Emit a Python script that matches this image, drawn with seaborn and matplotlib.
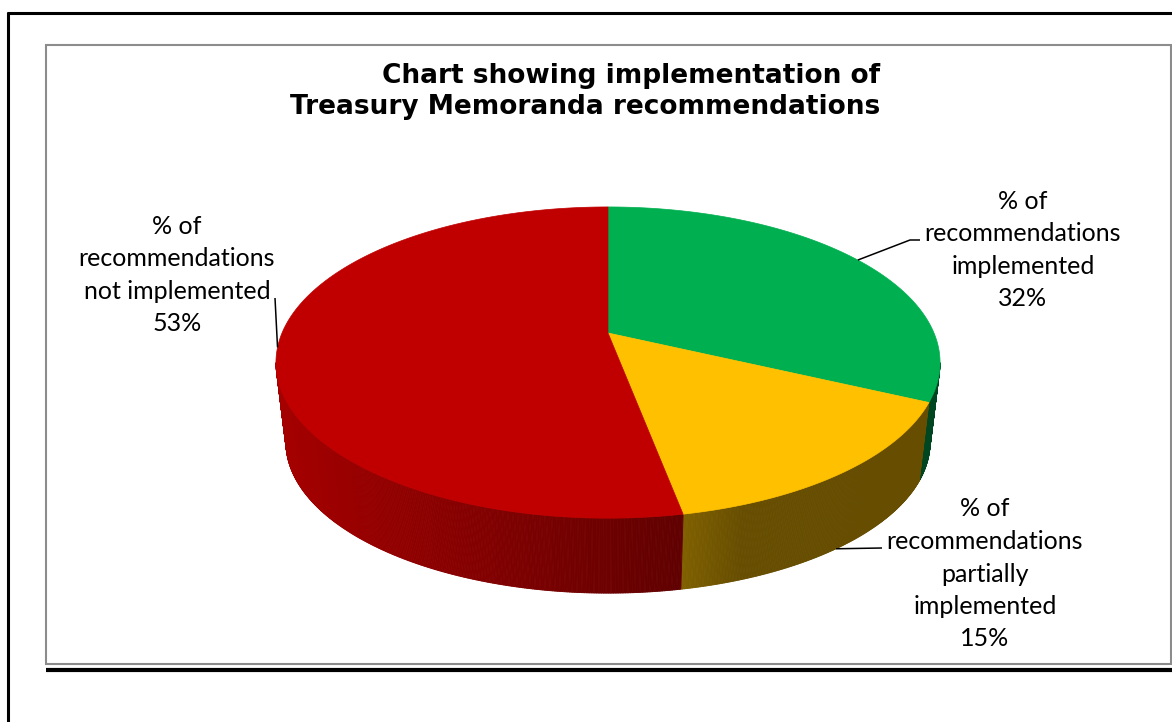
import numpy as np
import matplotlib
matplotlib.use("Agg")
import matplotlib.pyplot as plt
from matplotlib.patches import Polygon, Rectangle
from matplotlib.collections import PolyCollection
from matplotlib.colors import to_rgb
import seaborn as sns

# ---- data ----
label_lines = [
    ["% of", "recommendations", "implemented"],
    ["% of", "recommendations", "partially", "implemented"],
    ["% of", "recommendations", "not implemented"],
]
values = [32, 15, 53]
slice_colors = ["#00B050", "#FFC000", "#C00000"]
title_text = "Chart showing implementation of\nTreasury Memoranda recommendations"

sns.set_theme(style="white")
plt.rcParams["font.family"] = ["Lato", "DejaVu Sans"]
palette = sns.color_palette(slice_colors)

W, H = 1172, 722
fig = plt.figure(figsize=(W / 100, H / 100), dpi=100)
ax = fig.add_axes([0, 0, 1, 1])
ax.set_xlim(0, W)
ax.set_ylim(H, 0)
ax.axis("off")

# ---- 3D pie geometry (pixel space) ----
cx, cy = 608, 333
rx, ry = 326, 150
persp = 0.19
depth = 80.5
shrink = 0.97


def rim(theta_deg, base=False):
    t = np.radians(theta_deg)
    w = 1 + persp * np.sin(t)
    s = shrink if base else 1.0
    x = cx + s * rx * np.cos(t) / w
    y = cy + (depth if base else 0.0) - s * ry * np.sin(t) / w
    return x, y


def side_shade(x):
    # lighting along the wall: brighter on the left, darkest towards front-right
    if x <= 683:
        return 0.86 - 0.36 * (x - 287) / (683 - 287)
    return max(0.40, 0.50 - 0.10 * (x - 683) / (740 - 683))


total = float(sum(values))
edge = np.degrees(np.arcsin(persp))
vis_lo, vis_hi = -180 + edge, -edge

starts, ends = [], []
a = 90.0
for v in values:
    starts.append(a)
    a -= 360.0 * v / total
    ends.append(a)

# side walls
for a0, a1, col in zip(starts, ends, palette):
    lo, hi = max(a1, vis_lo), min(a0, vis_hi)
    if hi <= lo:
        continue
    th = np.linspace(lo, hi, int((hi - lo) * 4) + 2)
    quads, cols = [], []
    base = np.array(to_rgb(col))
    for t0, t1 in zip(th[:-1], th[1:]):
        p0, p1 = rim(t0), rim(t1)
        q1, q0 = rim(t1, True), rim(t0, True)
        quads.append([p0, p1, q1, q0])
        f = side_shade(0.5 * (q0[0] + q1[0]))
        cols.append(tuple(base * f))
    ax.add_collection(PolyCollection(quads, facecolors=cols, edgecolors=cols,
                                     linewidths=0.6, zorder=2))

# top faces
for a0, a1, col in zip(starts, ends, palette):
    th = np.linspace(a0, a1, 200)
    xs, ys = rim(th)
    pts = np.column_stack([np.r_[cx, xs], np.r_[cy, ys]])
    ax.add_patch(Polygon(pts, closed=True, facecolor=col, edgecolor=col,
                         linewidth=0.5, zorder=3))

# ---- data labels with leader lines ----
label_pos = [(1023, 250), (985, 574), (177, 275)]
leader_knee = [[(910, 240), (920, 240)], [(882, 548)], [(275, 298)]]
for i, (a0, a1) in enumerate(zip(starts, ends)):
    mid = 0.5 * (a0 + a1)
    on_base = np.sin(np.radians(mid)) < -0.5
    px, py = rim(mid, on_base)
    path = [(px, py)] + leader_knee[i]
    ax.plot([p[0] for p in path], [p[1] for p in path], color="black",
            lw=1.1, zorder=4, solid_capstyle="butt")
    pct = f"{values[i] / total * 100:.0f}%"
    txt = "\n".join(label_lines[i] + [pct])
    ax.text(label_pos[i][0], label_pos[i][1], txt, ha="center", va="center",
            multialignment="center", fontsize=18, color="black",
            linespacing=1.5, zorder=5)

# ---- title ----
ax.text(880, 91.5, title_text, ha="right", va="center", multialignment="right",
        fontsize=19, fontweight="bold", color="black", linespacing=1.28,
        family=["DejaVu Sans"], zorder=5)

# ---- frames ----
ax.plot([8, 8], [12, H], color="black", lw=2.2, solid_capstyle="butt")
ax.plot([7, W], [13, 13], color="black", lw=2.2, solid_capstyle="butt")
ax.add_patch(Rectangle((45.5, 45), 1170.5 - 45.5, 663.5 - 45, fill=False,
                       edgecolor="#8C8C8C", lw=1.5, zorder=1))
ax.plot([46, W], [670, 670], color="black", lw=3.0, solid_capstyle="butt")

fig.savefig("out.png", dpi=100, facecolor="white")
